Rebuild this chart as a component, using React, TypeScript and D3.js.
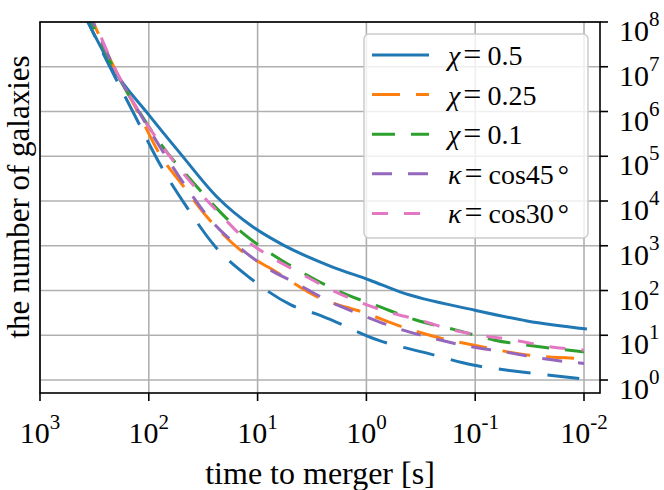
import * as d3 from "d3";

// exponents (log10): time to merger [s] and number of galaxies
const xTickExp = [3, 2, 1, 0, -1, -2];
const yTickExp = [0, 1, 2, 3, 4, 5, 6, 7, 8];

// chi = 0.5, solid blue
const chi05LogT = [2.62, 2.559, 2.338, 1.998, 1.713, 1.373, 1.042, 0.767, 0.316, -0.033, -0.309, -0.998, -1.476, -2.027];
const chi05LogN = [8.3, 8.0, 6.99, 5.92, 5.07, 4.09, 3.42, 3.02, 2.53, 2.23, 1.97, 1.56, 1.32, 1.14];

// blue dashed curve (not in legend)
const blueDashLogT = [2.62, 2.559, 2.357, 2.145, 1.888, 1.658, 1.392, 1.07, 0.694, 0.408, -0.107, -0.557, -0.98, -1.43, -2.0];
const blueDashLogN = [8.3, 8.0, 6.99, 5.99, 4.78, 3.89, 2.99, 2.28, 1.68, 1.43, 0.89, 0.6, 0.335, 0.18, 0.02];

// chi = 0.25
const chi025LogT = [2.57, 2.513, 2.32, 2.1, 1.888, 1.704, 1.456, 1.171, 0.858, 0.426, 0.013, -0.29, -0.676, -1.07, -1.476, -2.0];
const chi025LogN = [8.3, 8.0, 6.99, 5.99, 5.0, 4.4, 3.62, 2.93, 2.46, 1.83, 1.5, 1.22, 0.94, 0.74, 0.56, 0.48];

// chi = 0.1
const chi01LogT = [2.59, 2.53, 2.33, 2.09, 1.76, 1.686, 1.44, 1.17, 0.886, 0.564, 0.243, -0.107, -0.456, -0.82, -1.18, -1.54, -2.0];
const chi01LogN = [8.3, 8.0, 7.0, 6.0, 4.87, 4.67, 4.0, 3.35, 2.84, 2.37, 1.97, 1.65, 1.34, 1.12, 0.89, 0.76, 0.63];

// kappa = cos45
const k45LogT = [2.57, 2.513, 2.32, 2.09, 1.814, 1.63, 1.43, 1.18, 0.923, 0.638, 0.325, 0.04, -0.28, -0.6, -0.925, -1.265, -1.586, -2.0];
const k45LogN = [8.3, 8.0, 6.99, 5.99, 4.89, 4.22, 3.57, 2.99, 2.52, 2.15, 1.74, 1.45, 1.16, 0.94, 0.76, 0.63, 0.49, 0.37];

// kappa = cos30
const k30LogT = [2.56, 2.5, 2.32, 2.09, 1.713, 1.52, 1.318, 1.107, 0.877, 0.61, 0.335, 0.04, -0.2, -0.49, -0.787, -1.05, -1.366, -1.64, -2.0];
const k30LogN = [8.3, 8.0, 7.0, 6.0, 4.71, 4.16, 3.64, 3.13, 2.75, 2.39, 2.03, 1.72, 1.52, 1.34, 1.12, 1.0, 0.89, 0.76, 0.67];

const legendSymbols = ["χ", "χ", "χ", "κ", "κ"];
const legendValues = ["0.5", "0.25", "0.1", "cos45", "cos30"];

const FONT = "'Liberation Serif', 'DejaVu Serif', serif";

const series = [
  { t: chi05LogT, n: chi05LogN, color: "#1f77b4", dash: "", legend: 0 },
  { t: blueDashLogT, n: blueDashLogN, color: "#1f77b4", dash: "32 17", legend: -1 },
  { t: chi025LogT, n: chi025LogN, color: "#ff7f0e", dash: "28 16", legend: 1 },
  { t: chi01LogT, n: chi01LogN, color: "#2ca02c", dash: "23 16", legend: 2 },
  { t: k45LogT, n: k45LogN, color: "#9467bd", dash: "20 16", legend: 3 },
  { t: k30LogT, n: k30LogN, color: "#e377c2", dash: "16 16", legend: 4 },
];

export default function App() {
  const L = 40, R = 600, T = 22, B = 393;
  const x = d3.scaleLog().domain([1e3, Math.pow(10, -2.147)]).range([L, R]);
  const y = d3.scaleLog().domain([Math.pow(10, -0.29), 1e8]).range([B, T]);

  const line = d3
    .line<[number, number]>()
    .x((d) => x(Math.pow(10, d[0])))
    .y((d) => y(Math.pow(10, d[1])))
    .curve(d3.curveMonotoneX);

  const legendEntries = series.filter((s) => s.legend >= 0).sort((a, b) => a.legend - b.legend);

  return (
    <svg
      width={664}
      height={490}
      style={{ position: "absolute", left: 0, top: 0, background: "#fff" }}
      fontFamily={FONT}
    >
      <defs>
        <clipPath id="plot">
          <rect x={L} y={T} width={R - L} height={B - T} />
        </clipPath>
      </defs>

      {/* grid */}
      {xTickExp.map((e) => (
        <line key={"gx" + e} x1={x(Math.pow(10, e))} x2={x(Math.pow(10, e))} y1={T} y2={B} stroke="#b0b0b0" strokeWidth={1.6} />
      ))}
      {yTickExp.map((e) => (
        <line key={"gy" + e} x1={L} x2={R} y1={y(Math.pow(10, e))} y2={y(Math.pow(10, e))} stroke="#b0b0b0" strokeWidth={1.6} />
      ))}

      {/* curves */}
      <g clipPath="url(#plot)">
        {series.map((s, i) => (
          <path
            key={i}
            d={line(s.t.map((v, j) => [v, s.n[j]] as [number, number])) || ""}
            fill="none"
            stroke={s.color}
            strokeWidth={3}
            strokeDasharray={s.dash || undefined}
          />
        ))}
      </g>

      {/* spines */}
      <rect x={L} y={T} width={R - L} height={B - T} fill="none" stroke="#000" strokeWidth={1.6} />

      {/* x ticks */}
      {xTickExp.map((e) => {
        const px = x(Math.pow(10, e));
        return (
          <g key={"xt" + e}>
            <line x1={px} x2={px} y1={B} y2={B + 8} stroke="#000" strokeWidth={1.6} />
            <text x={px} y={443} textAnchor="middle" fontSize={30}>
              10
              <tspan dy={-14} fontSize={21}>{e}</tspan>
            </text>
          </g>
        );
      })}

      {/* y ticks on the right */}
      {yTickExp.map((e) => {
        const py = y(Math.pow(10, e));
        return (
          <g key={"yt" + e}>
            <line x1={R} x2={R + 8} y1={py} y2={py} stroke="#000" strokeWidth={1.6} />
            <text x={619} y={py + 19} fontSize={30}>
              10
              <tspan dy={-15} fontSize={21}>{e}</tspan>
            </text>
          </g>
        );
      })}

      {/* axis labels */}
      <text x={(L + R) / 2} y={484} textAnchor="middle" fontSize={32}>
        time to merger [s]
      </text>
      <text transform={`translate(29, 197) rotate(-90)`} textAnchor="middle" fontSize={31}>
        the number of galaxies
      </text>

      {/* legend */}
      <rect x={364} y={34} width={224} height={204} rx={5} fill="#fff" fillOpacity={0.8} stroke="#cccccc" strokeWidth={1.5} />
      {legendEntries.map((s, i) => {
        const ly = 55 + i * 39.6;
        const v = legendValues[s.legend];
        const deg = v.startsWith("cos");
        return (
          <g key={"lg" + i}>
            <line x1={372} x2={429} y1={ly} y2={ly} stroke={s.color} strokeWidth={3} strokeDasharray={s.dash || undefined} />
            <text x={448} y={ly + 10} fontSize={28}>
              <tspan fontStyle="italic">{legendSymbols[s.legend]}</tspan>
              <tspan dx={3} fontSize={32}>=</tspan>
              <tspan dx={6}>{v}</tspan>
              {deg && <tspan dx={4}>°</tspan>}
            </text>
          </g>
        );
      })}
    </svg>
  );
}
